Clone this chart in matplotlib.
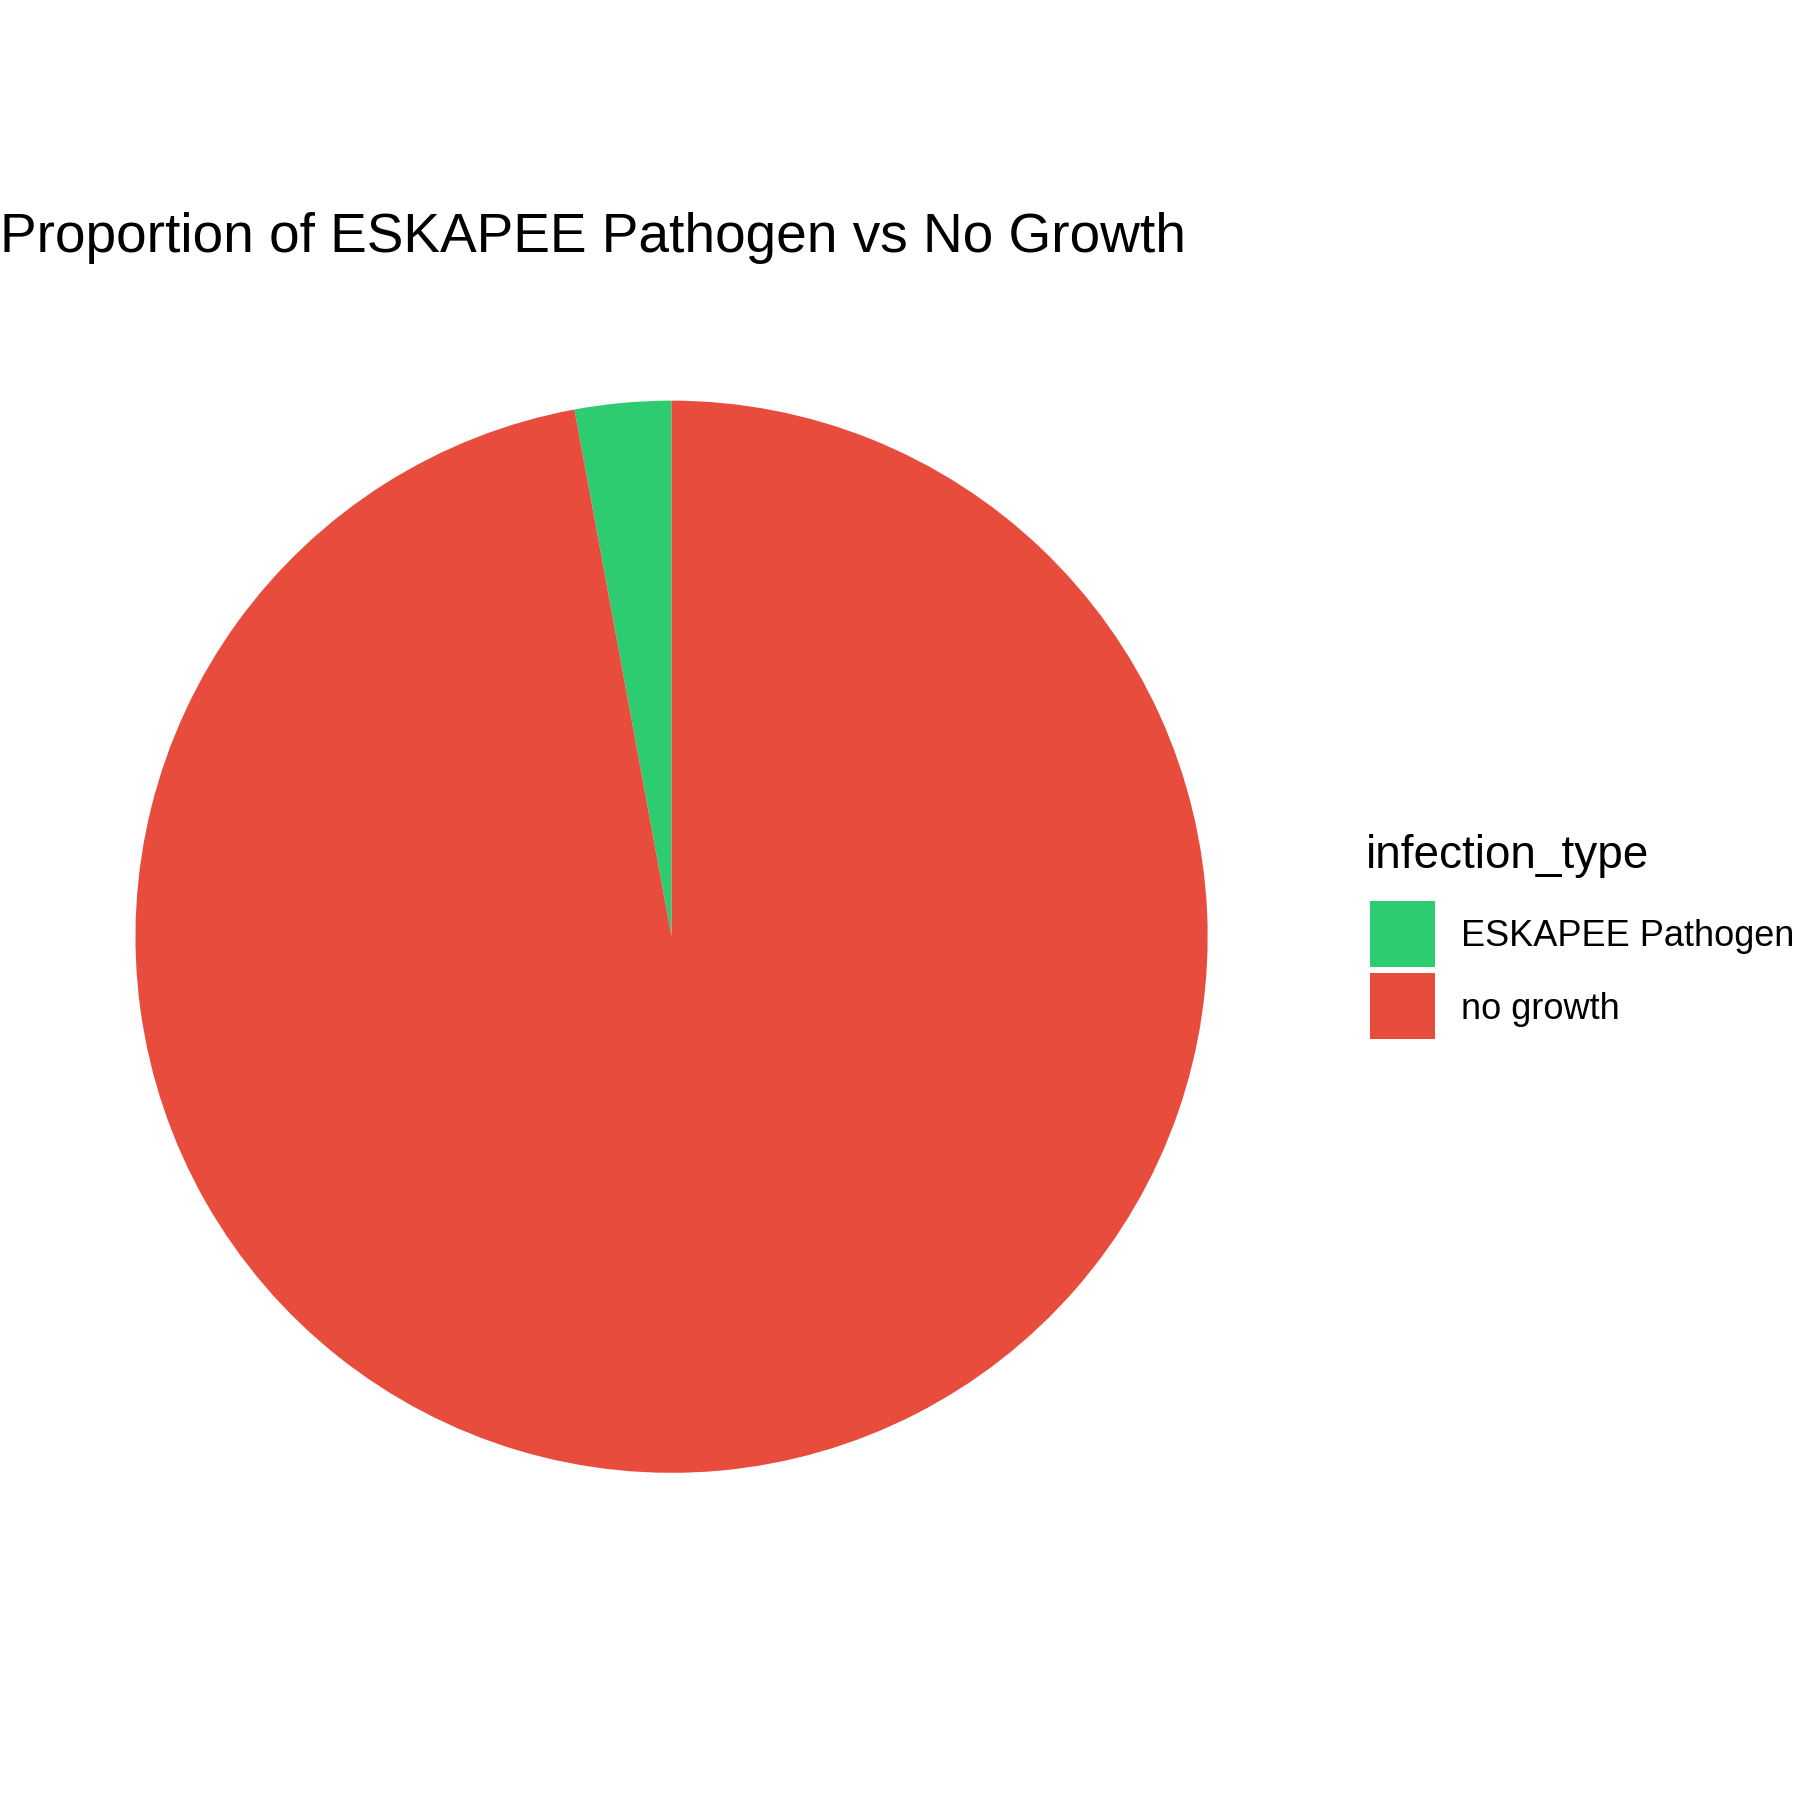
import matplotlib
matplotlib.use("Agg")
import matplotlib.pyplot as plt
from matplotlib.patches import Rectangle

plt.rcParams['font.family'] = ['Liberation Sans', 'DejaVu Sans']

categories = ["ESKAPEE Pathogen", "no growth"]
values = [2.9, 97.1]
colors = ["#2ECC71", "#E74C3C"]
title = "Proportion of ESKAPEE Pathogen vs No Growth"
legend_title = "infection_type"

fig = plt.figure(figsize=(18, 18), dpi=100)
S = 1568.0
cx, cy, r = 585 / S, 1 - 816 / S, 467 / S
ax = fig.add_axes([cx - r, cy - r, 2 * r, 2 * r])
ax.pie(values, colors=colors, startangle=90, counterclock=True,
       wedgeprops=dict(linewidth=0))
ax.set_xlim(-1, 1)
ax.set_ylim(-1, 1)
ax.set_aspect('equal')
ax.axis('off')

fig.text(0.0, 1 - 207 / S, title, fontsize=39.6, ha='left', va='center')
fig.text(1190 / S, 1 - 746 / S, legend_title, fontsize=33, ha='left', va='center')
for i, (c, col) in enumerate(zip(categories, colors)):
    y0 = 785 + i * 63
    fig.patches.append(Rectangle((1193 / S, 1 - (y0 + 57) / S), 57 / S, 57 / S,
                                 transform=fig.transFigure, facecolor=col,
                                 edgecolor='none'))
    fig.text(1273 / S, 1 - (y0 + 31) / S, c, fontsize=26, ha='left', va='center')

fig.savefig("out.png", dpi=100)
